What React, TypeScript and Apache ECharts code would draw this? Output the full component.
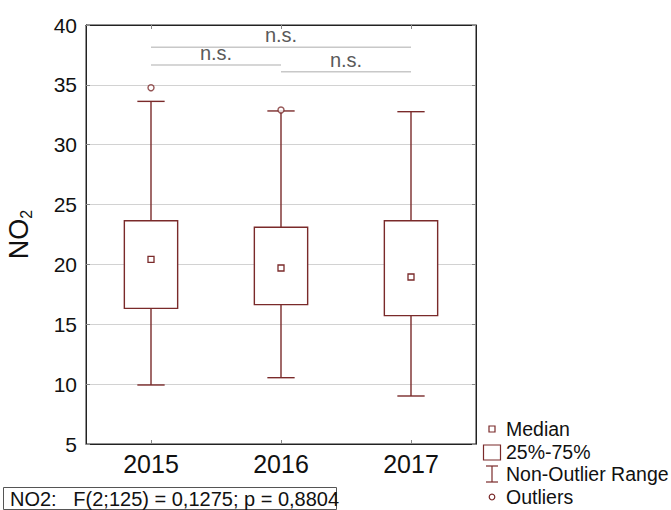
import React, { useEffect, useRef } from "react";
import * as echarts from "echarts";

const categories = ["2015", "2016", "2017"];
const whiskerLow = [9.93, 10.54, 9.01];
const q1 = [16.33, 16.64, 15.72];
const medians = [20.43, 19.7, 18.95];
const q3 = [23.65, 23.1, 23.65];
const whiskerHigh = [33.62, 32.82, 32.76];
const outliers: [number, number][] = [
  [0, 34.76],
  [1, 32.9],
];
// [fromIndex, toIndex, yValue, label]
const brackets: [number, number, number, string][] = [
  [0, 2, 38.14, "n.s."],
  [0, 1, 36.66, "n.s."],
  [1, 2, 36.1, "n.s."],
];
const yTicks = { min: 5, max: 40, interval: 5 };
const statsText = "NO2:   F(2;125) = 0,1275; p = 0,8804";
const legendItems = ["Median", "25%-75%", "Non-Outlier Range", "Outliers"];

const FONT = "'Liberation Sans', Arial, sans-serif";
const BOX = "#7a2a2a";

export default function App() {
  const ref = useRef<HTMLDivElement>(null);
  useEffect(() => {
    document.body.style.margin = "0";
    const chart = echarts.init(ref.current!, null, { renderer: "svg" });
    const boxData = categories.map((_, i) => [
      i,
      whiskerLow[i],
      q1[i],
      medians[i],
      q3[i],
      whiskerHigh[i],
    ]);
    const legX = 492;
    const legY = [429, 452, 474, 497];
    const option: any = {
      animation: false,
      backgroundColor: "#fff",
      textStyle: { fontFamily: FONT },
      grid: {
        left: 86,
        right: 195,
        top: 25,
        bottom: 66,
        show: true,
        borderColor: "#222",
        borderWidth: 1,
        backgroundColor: "transparent",
        outerBoundsMode: "none",
      },
      xAxis: [
        {
          type: "category",
          data: categories,
          boundaryGap: true,
          axisLine: { show: true, lineStyle: { color: "#222", width: 1 } },
          axisTick: {
            show: true,
            alignWithLabel: true,
            inside: true,
            length: 4,
            lineStyle: { color: "#888" },
          },
          axisLabel: {
            fontSize: 25,
            color: "#111",
            margin: 7,
            fontFamily: FONT,
          },
          splitLine: { show: false },
        },
        {
          type: "category",
          data: categories,
          position: "top",
          boundaryGap: true,
          axisLine: { show: true, lineStyle: { color: "#222", width: 1 } },
          axisTick: {
            show: true,
            alignWithLabel: true,
            inside: true,
            length: 4,
            lineStyle: { color: "#888" },
          },
          axisLabel: { show: false },
          splitLine: { show: false },
        },
      ],
      yAxis: [
        {
          type: "value",
          min: yTicks.min,
          max: yTicks.max,
          interval: yTicks.interval,
          name: "{a|NO}{b|2}",
          nameLocation: "middle",
          nameRotate: 90,
          nameGap: 52,
          nameTextStyle: {
            rich: {
              a: { fontSize: 27, lineHeight: 30, color: "#111", fontFamily: FONT },
              b: {
                fontSize: 16,
                lineHeight: 16,
                verticalAlign: "bottom",
                color: "#111",
                fontFamily: FONT,
              },
            },
          },
          axisLine: { show: true, lineStyle: { color: "#222", width: 1 } },
          axisTick: {
            show: true,
            inside: true,
            length: 4,
            lineStyle: { color: "#888" },
          },
          axisLabel: { fontSize: 21, color: "#111", margin: 9, fontFamily: FONT },
          splitLine: { show: true, lineStyle: { color: "#d2d2d2", width: 1 } },
        },
        {
          type: "value",
          min: yTicks.min,
          max: yTicks.max,
          interval: yTicks.interval,
          position: "right",
          axisLine: { show: true, lineStyle: { color: "#222", width: 1 } },
          axisTick: {
            show: true,
            inside: true,
            length: 4,
            lineStyle: { color: "#888" },
          },
          axisLabel: { show: false },
          splitLine: { show: false },
        },
      ],
      series: [
        {
          type: "custom",
          name: "box",
          xAxisIndex: 0,
          yAxisIndex: 0,
          data: boxData,
          encode: { x: 0, y: [1, 2, 3, 4, 5] },
          renderItem: (params: any, api: any) => {
            const idx = api.value(0);
            const band = api.size([1, 0])[0];
            const bw = band * 0.41;
            const cw = band * 0.21;
            const pLow = api.coord([idx, api.value(1)]);
            const pQ1 = api.coord([idx, api.value(2)]);
            const pMed = api.coord([idx, api.value(3)]);
            const pQ3 = api.coord([idx, api.value(4)]);
            const pHigh = api.coord([idx, api.value(5)]);
            const x = pMed[0];
            const ls = { stroke: BOX, lineWidth: 1.4, fill: null };
            const ms = 6;
            return {
              type: "group",
              children: [
                { type: "line", shape: { x1: x, y1: pLow[1], x2: x, y2: pQ1[1] }, style: ls },
                { type: "line", shape: { x1: x, y1: pQ3[1], x2: x, y2: pHigh[1] }, style: ls },
                { type: "line", shape: { x1: x - cw / 2, y1: pLow[1], x2: x + cw / 2, y2: pLow[1] }, style: ls },
                { type: "line", shape: { x1: x - cw / 2, y1: pHigh[1], x2: x + cw / 2, y2: pHigh[1] }, style: ls },
                {
                  type: "rect",
                  shape: { x: x - bw / 2, y: pQ3[1], width: bw, height: pQ1[1] - pQ3[1] },
                  style: { stroke: BOX, lineWidth: 1.4, fill: "#fff" },
                },
                {
                  type: "rect",
                  shape: { x: x - ms / 2, y: pMed[1] - ms / 2, width: ms, height: ms },
                  style: { stroke: BOX, lineWidth: 1.3, fill: "#fff" },
                },
              ],
            };
          },
          z: 3,
        },
        {
          type: "scatter",
          name: "outliers",
          data: outliers,
          symbol: "circle",
          symbolSize: 6,
          itemStyle: { color: "#fff", borderColor: BOX, borderWidth: 1.4 },
          z: 4,
        },
        {
          type: "custom",
          name: "brackets",
          data: brackets.map((b) => [b[0], b[1], b[2]]),
          encode: { x: [0, 1], y: 2 },
          renderItem: (params: any, api: any) => {
            const i = params.dataIndex;
            const a = api.coord([api.value(0), api.value(2)]);
            const b = api.coord([api.value(1), api.value(2)]);
            return {
              type: "group",
              children: [
                {
                  type: "line",
                  shape: { x1: a[0], y1: a[1], x2: b[0], y2: b[1] },
                  style: { stroke: "#c8c8c8", lineWidth: 1.6 },
                },
                {
                  type: "text",
                  style: {
                    text: brackets[i][3],
                    x: (a[0] + b[0]) / 2,
                    y: a[1] - 2,
                    textAlign: "center",
                    textVerticalAlign: "bottom",
                    fontSize: 20,
                    fontFamily: FONT,
                    fill: "#5a5a5a",
                  },
                },
              ],
            };
          },
          z: 2,
        },
      ],
      graphic: [
        {
          type: "rect",
          shape: { x: 3.5, y: 487.5, width: 333, height: 22 },
          style: { fill: "#fff", stroke: "#555", lineWidth: 1 },
        },
        {
          type: "text",
          x: 10,
          y: 499,
          style: {
            text: statsText,
            fontSize: 20,
            fontFamily: FONT,
            fill: "#111",
            textVerticalAlign: "middle",
          },
        },
        // legend icons
        {
          type: "rect",
          shape: { x: legX - 3, y: legY[0] - 3, width: 6, height: 6 },
          style: { stroke: BOX, lineWidth: 1.2, fill: "#fff" },
        },
        {
          type: "rect",
          shape: { x: legX - 8.5, y: legY[1] - 7, width: 17, height: 15 },
          style: { stroke: BOX, lineWidth: 1.2, fill: "#fff" },
        },
        {
          type: "line",
          shape: { x1: legX, y1: legY[2] - 8, x2: legX, y2: legY[2] + 8 },
          style: { stroke: BOX, lineWidth: 1.2 },
        },
        {
          type: "line",
          shape: { x1: legX - 6, y1: legY[2] - 8, x2: legX + 6, y2: legY[2] - 8 },
          style: { stroke: BOX, lineWidth: 1.2 },
        },
        {
          type: "line",
          shape: { x1: legX - 6, y1: legY[2] + 8, x2: legX + 6, y2: legY[2] + 8 },
          style: { stroke: BOX, lineWidth: 1.2 },
        },
        {
          type: "circle",
          shape: { cx: legX, cy: legY[3], r: 2.8 },
          style: { stroke: BOX, lineWidth: 1.2, fill: "#fff" },
        },
        ...legendItems.map((t, i) => ({
          type: "text",
          x: 506,
          y: legY[i],
          style: {
            text: t,
            fontSize: 19.5,
            fontFamily: FONT,
            fill: "#111",
            textVerticalAlign: "middle",
          },
        })),
      ],
    };
    chart.setOption(option);
    return () => chart.dispose();
  }, []);
  return <div ref={ref} style={{ width: 671, height: 510 }} />;
}
